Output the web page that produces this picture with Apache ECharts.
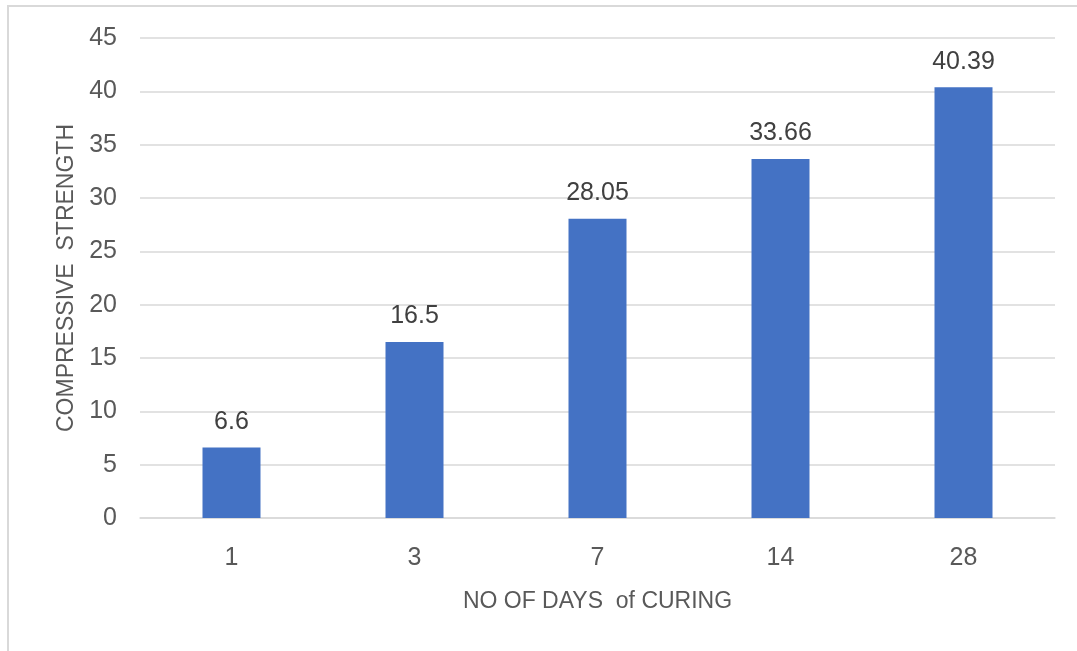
<!DOCTYPE html>
<html>
<head>
<meta charset="utf-8">
<script src="https://cdn.jsdelivr.net/npm/echarts@6/dist/echarts.min.js"></script>
<style>
  html, body { margin: 0; padding: 0; background: #fff; }
  #frame { position: absolute; left: 7px; top: 5px; width: 1090px; height: 670px; border: 2px solid #d9d9d9; box-sizing: border-box; }
  #chart { position: absolute; left: 0; top: 0; width: 1077px; height: 651px; }
</style>
</head>
<body>
<div id="frame"></div>
<div id="chart"></div>
<script>
// Curing age (days) and compressive strength
const days = ['1', '3', '7', '14', '28'];
const strength = [6.6, 16.5, 28.05, 33.66, 40.39];
const xTitle = 'NO OF DAYS  of CURING';
const yTitle = 'COMPRESSIVE  STRENGTH';

const chart = echarts.init(document.getElementById('chart'), null, { renderer: 'canvas' });
const font = '"Liberation Sans", "DejaVu Sans", sans-serif';

chart.setOption({
  animation: false,
  textStyle: { fontFamily: font },
  grid: { left: 140, right: 22, top: 38, bottom: 133, containLabel: false },
  xAxis: {
    type: 'category',
    data: days,
    name: xTitle,
    nameLocation: 'middle',
    nameGap: 72,
    nameTextStyle: { color: '#595959', fontSize: 23, fontFamily: font },
    axisLine: { show: true, lineStyle: { color: '#d9d9d9', width: 1.5 } },
    axisTick: { show: false },
    axisLabel: { color: '#595959', fontSize: 25, margin: 28, fontFamily: font }
  },
  yAxis: {
    type: 'value',
    min: 0,
    max: 45,
    interval: 5,
    name: yTitle,
    nameLocation: 'middle',
    nameGap: 60,
    nameRotate: 90,
    nameTextStyle: { color: '#595959', fontSize: 23, fontFamily: font },
    axisLine: { show: false },
    axisTick: { show: false },
    axisLabel: { color: '#595959', fontSize: 25, margin: 23, fontFamily: font },
    splitLine: { lineStyle: { color: '#d9d9d9', width: 1.5 } }
  },
  series: [{
    type: 'bar',
    data: strength,
    barWidth: 58,
    itemStyle: { color: '#4472c4' },
    label: {
      show: true,
      position: 'top',
      distance: 13,
      color: '#404040',
      fontSize: 25,
      fontFamily: font
    }
  }]
});
</script>
</body>
</html>
